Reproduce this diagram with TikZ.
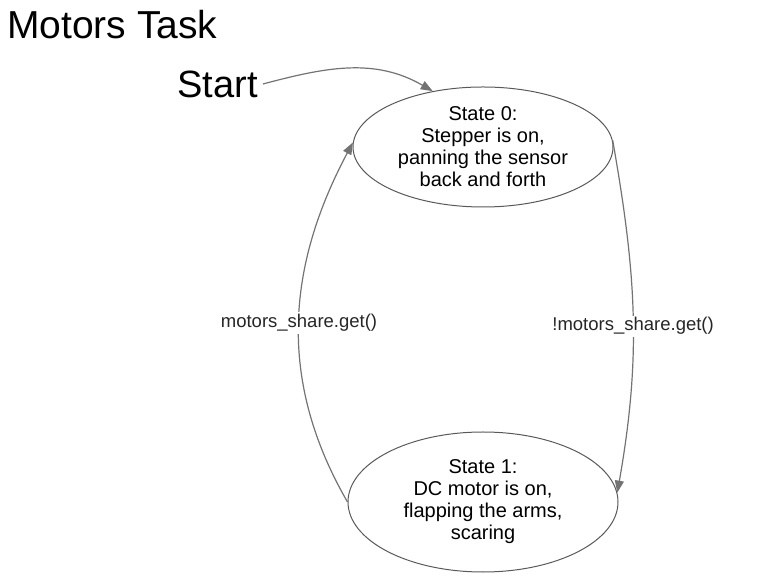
\documentclass[tikz,border=0pt]{standalone}
\usepackage{fontspec}
\setmainfont{Liberation Sans}
\usetikzlibrary{arrows.meta,shapes.geometric,positioning}

\begin{document}
\begin{tikzpicture}[x=1pt,y=1pt,node distance=355pt,on grid,
    >={Triangle[length=12pt,width=9pt]},
    state/.style={ellipse,draw=black!65,line width=1pt,inner sep=0pt,align=center,
      font=\fontsize{20}{22}\selectfont},
    bigtext/.style={inner sep=0pt,font=\fontsize{38}{40}\selectfont},
    trans/.style={color=black!55,line width=1.2pt},
    lbl/.style={fill=white,inner sep=2pt,text=black!85,font=\fontsize{18.5}{20}\selectfont}]
        \useasboundingbox (0,0) rectangle (762,583);
        \node[bigtext,anchor=west,font=\fontsize{39}{40}\selectfont] (title) at (7,558) {Motors Task};
        \node[state,minimum width=260pt,minimum height=120pt] (s0) at (483,436)
            {State 0:\\Stepper is on,\\panning the sensor\\back and forth};
        \node[state,minimum width=270pt,minimum height=140pt] (s1) [below=of s0]
            {State 1:\\DC motor is on,\\flapping the arms,\\scaring};
        \node[bigtext,anchor=east,inner xsep=5pt] (start) at (263,499) {Start};
        \path[->,trans] (start.east) edge [out=15,in=150] (s0.132);
        \path[->,trans] (s0.3) edge [out=-80,in=80] node[lbl,pos=0.53] {!motors\_share.get()} (s1.4);
        \path[->,trans] (s1.west) edge [out=120,in=-118] node[lbl] {motors\_share.get()} (s0.178);
      \end{tikzpicture}
\end{document}
